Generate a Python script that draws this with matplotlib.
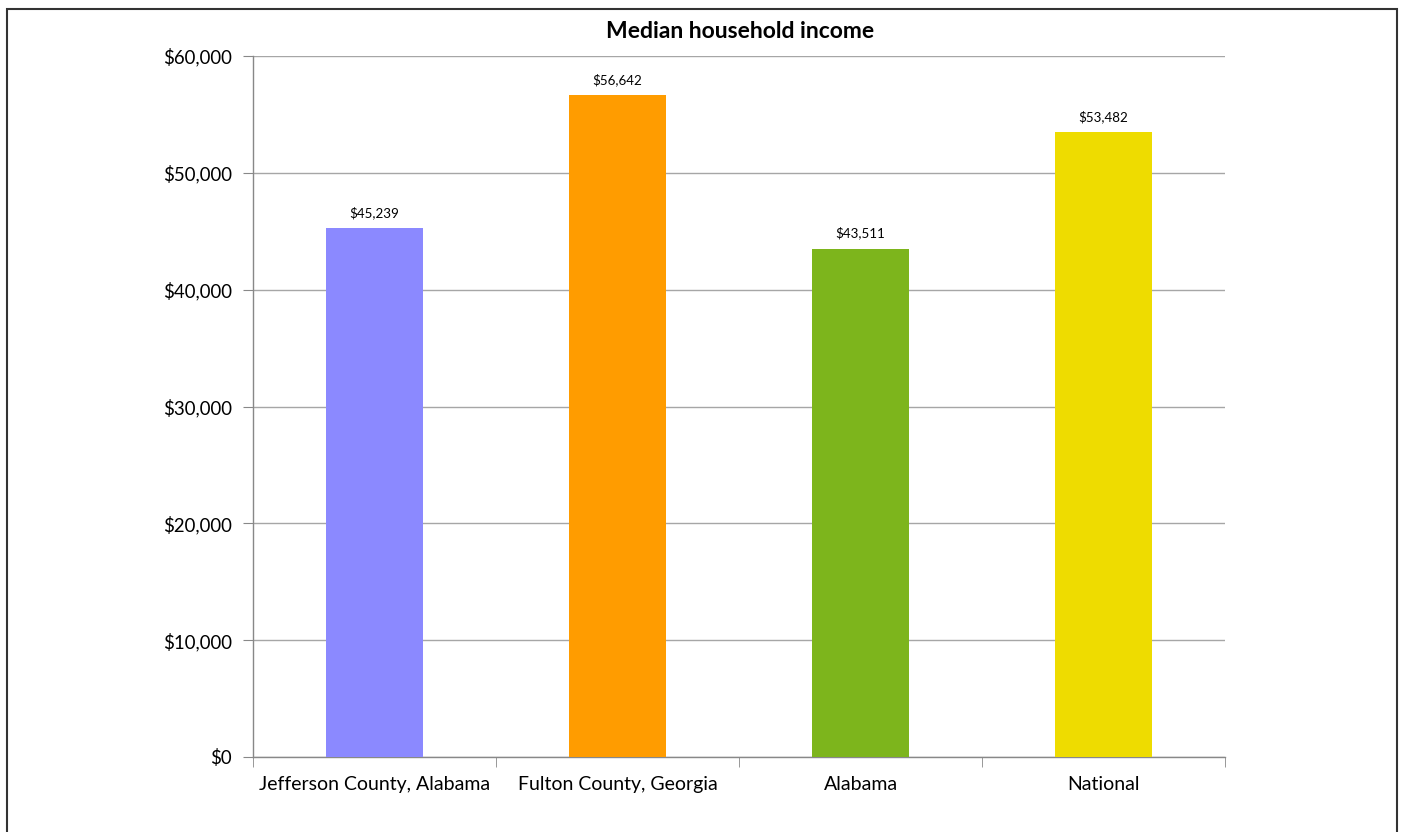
import matplotlib
matplotlib.use("Agg")
import matplotlib.pyplot as plt
from matplotlib.ticker import FuncFormatter, MultipleLocator
from matplotlib.patches import Rectangle

categories = ["Jefferson County, Alabama", "Fulton County, Georgia", "Alabama", "National"]
values = [45239, 56642, 43511, 53482]
colors = ["#8B89FF", "#FF9C00", "#7DB51C", "#EEDC00"]
title = "Median household income"

plt.rcParams['font.family'] = ['Lato', 'DejaVu Sans']

W, H = 1402, 832
fig = plt.figure(figsize=(W / 100, H / 100), dpi=100)
ax = fig.add_axes([253 / W, 1 - 757 / H, (1225 - 253) / W, (757 - 56) / H])

x = range(len(categories))
bars = ax.bar(x, values, width=0.403, color=colors, zorder=3)
for xi, v in zip(x, values):
    ax.text(xi, v + 800, f"${v:,}", ha="center", va="bottom", fontsize=9.6, color="#000000")

ax.set_xlim(-0.5, len(categories) - 0.5)
ax.set_ylim(0, 60000)
ax.yaxis.set_major_locator(MultipleLocator(10000))
ax.yaxis.set_major_formatter(FuncFormatter(lambda v, p: f"${int(v):,}"))
ax.set_xticks(list(x))
ax.set_xticklabels(categories, fontsize=14)
ax.tick_params(axis="x", length=0, pad=14)
ax.tick_params(axis="y", labelsize=13.4, length=7, color="#888888", pad=8)
# minor ticks at category boundaries
ax.set_xticks([i - 0.5 for i in range(len(categories) + 1)], minor=True)
ax.tick_params(axis="x", which="minor", length=7, color="#888888")
ax.grid(axis="y", color="#a6a6a6", linewidth=1, zorder=0)
for s in ["top", "right"]:
    ax.spines[s].set_visible(False)
for s in ["left", "bottom"]:
    ax.spines[s].set_color("#888888")
    ax.spines[s].set_linewidth(1)

fig.text(740 / W, 1 - 31 / H, title, ha="center", va="center", fontsize=16.5, fontweight="bold")

fig.patches.append(Rectangle((7 / W, -0.05), (1397 - 7) / W, 1 - 9 / H + 0.05,
                             transform=fig.transFigure, fill=False,
                             edgecolor="#333333", linewidth=1.5))

fig.savefig("out.png", dpi=100)
